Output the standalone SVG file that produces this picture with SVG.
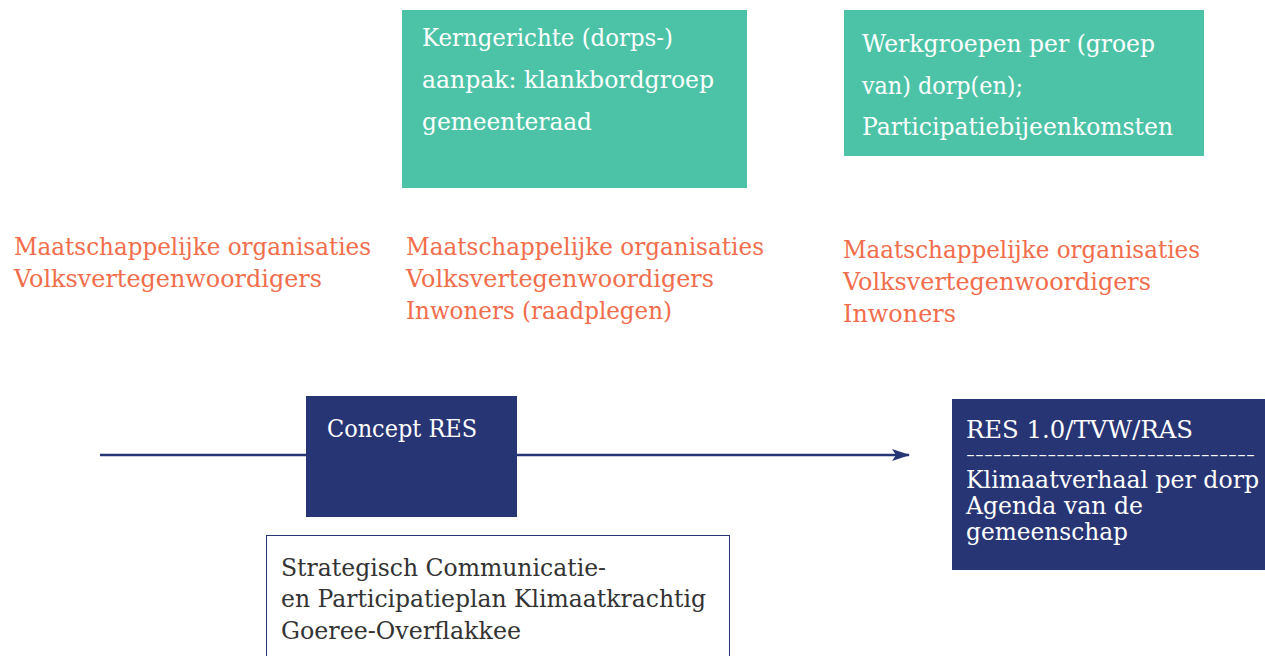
<svg xmlns="http://www.w3.org/2000/svg" width="1265" height="656" viewBox="0 0 1265 656">
<defs>
<style>
.t{font-family:"DejaVu Serif","Liberation Serif",serif;}
.w{fill:#ffffff;font-size:24px;}
.o{fill:#F26D4B;font-size:24px;}
.d{fill:#333333;font-size:24px;}
.teal{fill:#4CC3A7;}
.navy{fill:#283574;}
</style>
<marker id="ah" markerWidth="18" markerHeight="14" refX="17" refY="7" orient="auto" markerUnits="userSpaceOnUse"><path d="M0,1 L18,7 L0,13 L4,7 Z" fill="#283574"/></marker>
</defs>
<rect width="1265" height="656" fill="#ffffff"/>
<g id="connectors">
<line x1="100" y1="455" x2="909" y2="455" stroke="#283574" stroke-width="2.5" marker-end="url(#ah)"/>
</g>
<g id="kern">
<rect class="teal" x="402" y="10" width="345" height="178"/>
<text class="t w" x="422" y="46" textLength="251" lengthAdjust="spacingAndGlyphs">Kerngerichte (dorps-)</text>
<text class="t w" x="422" y="88" textLength="292" lengthAdjust="spacingAndGlyphs">aanpak: klankbordgroep</text>
<text class="t w" x="422" y="130" textLength="170" lengthAdjust="spacingAndGlyphs">gemeenteraad</text>
</g>
<g id="werkgroepen">
<rect class="teal" x="844" y="10" width="360" height="146"/>
<text class="t w" x="862" y="52" textLength="293" lengthAdjust="spacingAndGlyphs">Werkgroepen per (groep</text>
<text class="t w" x="862" y="94" textLength="161" lengthAdjust="spacingAndGlyphs">van) dorp(en);</text>
<text class="t w" x="862" y="135" textLength="311" lengthAdjust="spacingAndGlyphs">Participatiebijeenkomsten</text>
</g>
<g id="stakeholders1">
<text class="t o" x="14" y="255" textLength="357" lengthAdjust="spacingAndGlyphs">Maatschappelijke organisaties</text>
<text class="t o" x="14" y="287" textLength="308" lengthAdjust="spacingAndGlyphs">Volksvertegenwoordigers</text>
</g>
<g id="stakeholders2">
<text class="t o" x="406" y="255" textLength="358" lengthAdjust="spacingAndGlyphs">Maatschappelijke organisaties</text>
<text class="t o" x="406" y="287" textLength="308" lengthAdjust="spacingAndGlyphs">Volksvertegenwoordigers</text>
<text class="t o" x="406" y="319" textLength="266" lengthAdjust="spacingAndGlyphs">Inwoners (raadplegen)</text>
</g>
<g id="stakeholders3">
<text class="t o" x="843" y="258" textLength="357" lengthAdjust="spacingAndGlyphs">Maatschappelijke organisaties</text>
<text class="t o" x="843" y="290" textLength="308" lengthAdjust="spacingAndGlyphs">Volksvertegenwoordigers</text>
<text class="t o" x="843" y="322" textLength="113" lengthAdjust="spacingAndGlyphs">Inwoners</text>
</g>
<g id="concept">
<rect class="navy" x="306" y="396" width="211" height="121"/>
<text class="t w" x="327" y="437" textLength="150" lengthAdjust="spacingAndGlyphs">Concept RES</text>
</g>
<g id="res10">
<rect class="navy" x="952" y="399" width="313" height="171"/>
<text class="t w" x="966" y="438" textLength="227" lengthAdjust="spacingAndGlyphs">RES 1.0/TVW/RAS</text>
<text class="t" x="966" y="460" fill="#ffffff" font-size="14" textLength="289" lengthAdjust="spacingAndGlyphs">--------------------------------</text>
<text class="t w" x="966" y="488" textLength="293" lengthAdjust="spacingAndGlyphs">Klimaatverhaal per dorp</text>
<text class="t w" x="966" y="514" textLength="177" lengthAdjust="spacingAndGlyphs">Agenda van de</text>
<text class="t w" x="966" y="540" textLength="162" lengthAdjust="spacingAndGlyphs">gemeenschap</text>
</g>
<g id="plan">
<rect x="266.5" y="535.5" width="463" height="125" fill="#ffffff" stroke="#283574" stroke-width="1"/>
<text class="t d" x="281" y="576" textLength="325" lengthAdjust="spacingAndGlyphs">Strategisch Communicatie-</text>
<text class="t d" x="281" y="607" textLength="425" lengthAdjust="spacingAndGlyphs">en Participatieplan Klimaatkrachtig</text>
<text class="t d" x="281" y="639" textLength="240" lengthAdjust="spacingAndGlyphs">Goeree-Overflakkee</text>
</g>
</svg>
